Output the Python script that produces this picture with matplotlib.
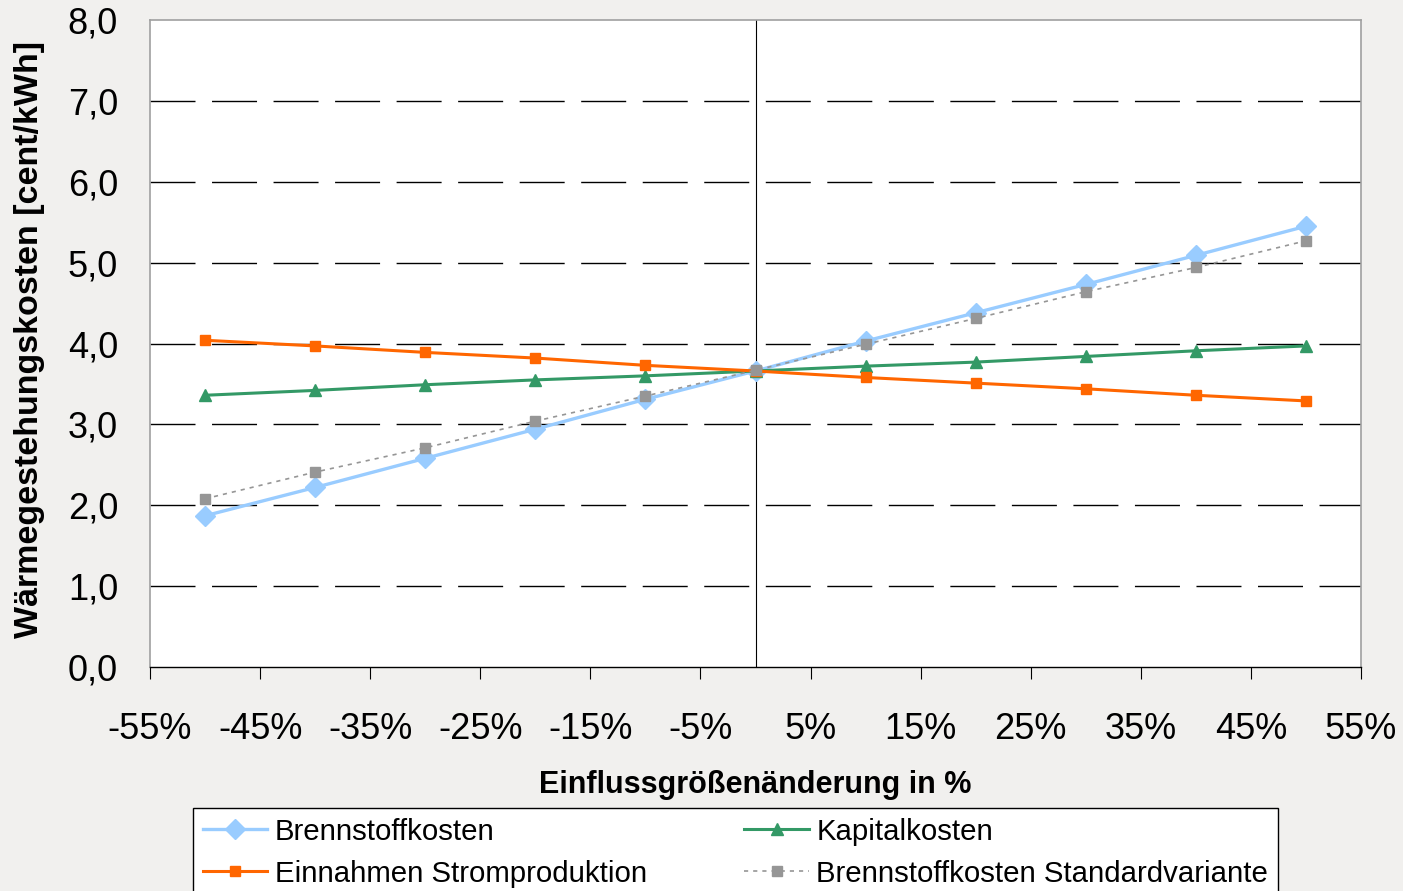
import numpy as np
import matplotlib
matplotlib.use("Agg")
from matplotlib import pyplot as plt

plt.rcParams['font.family'] = ['Liberation Sans', 'DejaVu Sans']

# Einflussgrößenänderung in %
x_change = [-50, -40, -30, -20, -10, 0, 10, 20, 30, 40, 50]

# Wärmegestehungskosten in cent/kWh
brennstoff = [1.87, 2.22, 2.58, 2.94, 3.31, 3.66, 4.03, 4.38, 4.73, 5.09, 5.45]
kapital = [3.36, 3.42, 3.49, 3.55, 3.60, 3.66, 3.72, 3.77, 3.84, 3.91, 3.97]
einnahmen = [4.04, 3.97, 3.89, 3.82, 3.73, 3.66, 3.58, 3.51, 3.44, 3.36, 3.29]
standard = [2.08, 2.41, 2.71, 3.04, 3.35, 3.67, 3.99, 4.31, 4.64, 4.94, 5.27]

x_ticks = [-55, -45, -35, -25, -15, -5, 5, 15, 25, 35, 45, 55]
x_ticklabels = ["-55%", "-45%", "-35%", "-25%", "-15%", "-5%", "5%", "15%", "25%", "35%", "45%", "55%"]
y_ticks = [0, 1, 2, 3, 4, 5, 6, 7, 8]
y_ticklabels = ["0,0", "1,0", "2,0", "3,0", "4,0", "5,0", "6,0", "7,0", "8,0"]

bg = '#f1f0ee'
W, H = 1403, 891
fig = plt.figure(figsize=(W / 100, H / 100), dpi=100, facecolor=bg)
ax = fig.add_axes([150 / W, 1 - 667 / H, (1361 - 150) / W, (667 - 20) / H])
ax.set_facecolor('white')

ax.set_xlim(-55, 55)
ax.set_ylim(0, 8)

# dashed horizontal grid
for yv in y_ticks[1:-1]:
    ax.axhline(yv, color='black', lw=1.0, dashes=(32.4, 11.9), zorder=1)
ax.axvline(0, color='black', lw=0.8, zorder=1)

ax.plot(x_change, brennstoff, color='#99ccff', lw=2.4, marker='D', ms=10,
        mec='#99ccff', mfc='#99ccff', label='Brennstoffkosten', zorder=3)
ax.plot(x_change, kapital, color='#339966', lw=2.2, marker='^', ms=8,
        mec='#339966', mfc='#339966', label='Kapitalkosten', zorder=3)
ax.plot(x_change, einnahmen, color='#ff6600', lw=2.2, marker='s', ms=7.5,
        mec='#ff6600', mfc='#ff6600', label='Einnahmen Stromproduktion', zorder=4)
ax.plot(x_change, standard, color='#969696', lw=1.2, ls=(0, (2.5, 3)), marker='s', ms=7,
        mec='#969696', mfc='#969696', label='Brennstoffkosten Standardvariante', zorder=5)

ax.set_xticks(x_ticks)
ax.set_xticklabels(x_ticklabels, fontsize=26)
ax.set_yticks(y_ticks)
ax.set_yticklabels(y_ticklabels, fontsize=26)
ax.tick_params(axis='x', direction='out', length=8.6, width=0.8, pad=24)
ax.tick_params(axis='y', length=0, pad=23)

for side in ['top', 'left', 'right']:
    ax.spines[side].set_color('#a0a0a0')
    ax.spines[side].set_linewidth(1.2)
ax.spines['bottom'].set_color('black')
ax.spines['bottom'].set_linewidth(1.0)

fig.text(755 / W, 1 - 785 / H, 'Einflussgrößenänderung in %', fontsize=22,
         fontweight='bold', ha='center', va='center')
fig.text(30 / W, 1 - 340 / H, 'Wärmegestehungskosten [cent/kWh]', fontsize=24.5,
         fontweight='bold', ha='center', va='center', rotation=90)

handles, labels = ax.get_legend_handles_labels()
order = [0, 2, 1, 3]
leg = fig.legend([handles[i] for i in order], [labels[i] for i in order],
                 loc='upper left', bbox_to_anchor=(193 / W, 1 - 808 / H),
                 ncol=2, fontsize=21.2, frameon=True, fancybox=False,
                 edgecolor='black', framealpha=1, borderaxespad=0, handlelength=2.2,
                 handletextpad=0.25, labelspacing=0.47, borderpad=0.33, columnspacing=3.3)
leg.get_frame().set_linewidth(1.0)

fig.savefig('out.png', dpi=100, facecolor=bg)
